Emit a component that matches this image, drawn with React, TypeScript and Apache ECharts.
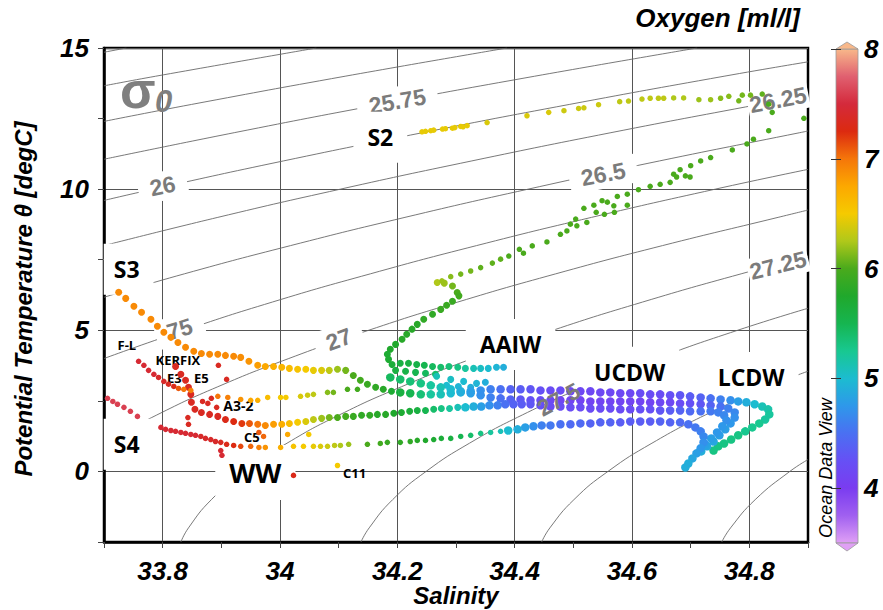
import React, { useEffect, useRef } from 'react';
import * as echarts from 'echarts';

// ---------- axis ticks / labels ----------
const xTickLabels = ['33.8', '34', '34.2', '34.4', '34.6', '34.8'];
const yTickLabels = ['0', '5', '10', '15'];
const colorBarTicks = [4, 5, 6, 7, 8];

// Ocean Data View style oxygen palette, 3.5 .. 8 ml/l (step 0.25)
const oxygenColors = [
  '#e0a0f5', '#a060f0', '#7a3cf0', '#6650f5', '#4a70f2', '#2e98ea', '#1cbcd0',
  '#18c890', '#16b550', '#20a82c', '#4aaa1c', '#b0c81a', '#f5ca00', '#fca800',
  '#f5760a', '#dc2a10', '#d42a3c', '#e06070', '#f8b88a',
];

// ---------- sigma-0 isopycnals [S, T] ----------
const c25_00 = [[33.7, 14.85], [33.738, 15]];
const c25_25 = [[33.7, 13.66], [33.788, 14], [34.062, 15]];
const c25_50 = [[33.7, 12.4], [33.849, 13], [34.111, 14], [34.387, 15]];
const c25_75 = [[33.7, 11.06], [33.922, 12], [34.171, 13], [34.434, 14], [34.711, 15]];
const c26_00 = [[33.7, 9.6], [33.784, 10], [34.006, 11], [34.243, 12], [34.493, 13], [34.757, 14], [34.9, 14.51]];
const c26_25 = [[33.7, 8], [33.894, 9], [34.103, 10], [34.327, 11], [34.564, 12], [34.816, 13], [34.9, 13.32]];
const c26_50 = [[33.7, 6.17], [33.837, 7], [34.018, 8], [34.213, 9], [34.423, 10], [34.647, 11], [34.886, 12], [34.9, 12.06]];
const c26_75 = [[33.7, 4.0], [33.837, 5], [33.987, 6], [34.154, 7], [34.335, 8], [34.531, 9], [34.742, 10], [34.9, 10.7]];
const c27_00 = [[33.7, 1.0], [33.79, 2], [33.894, 3], [34.015, 4], [34.151, 5], [34.303, 6], [34.47, 7], [34.652, 8], [34.849, 9], [34.9, 9.26]];
const c27_25 = [[33.831, -2.5], [33.844, -2], [33.883, -1], [33.939, 0], [34.012, 1], [34.101, 2], [34.207, 3], [34.328, 4], [34.465, 5], [34.618, 6], [34.786, 7], [34.9, 7.62]];
const c27_50 = [[34.138, -2.5], [34.152, -2], [34.192, -1], [34.249, 0], [34.323, 1], [34.413, 2], [34.519, 3], [34.642, 4], [34.78, 5], [34.9, 5.78]];
const c27_75 = [[34.446, -2.5], [34.46, -2], [34.501, -1], [34.559, 0], [34.634, 1], [34.725, 2], [34.832, 3], [34.9, 3.55]];
const c28_00 = [[34.753, -2.5], [34.768, -2], [34.81, -1], [34.869, 0], [34.9, 0.42]];
const contourLines = [c25_00, c25_25, c25_50, c25_75, c26_00, c26_25, c26_50, c26_75, c27_00, c27_25, c27_50, c27_75, c28_00];

// contour labels
const contourLabelText = ['25.75', '26', '26.25', '26.5', '75', '27', '27.25'];
const contourLabelS = [34.2, 33.8, 34.849, 34.551, 33.829, 34.1, 34.849];
const contourLabelT = [13.12, 10.11, 13.16, 10.53, 5.04, 4.68, 7.3];
const contourLabelAngle = [10, 12, 11, 11, 17, 20, 14];
const topLabelText = ['27.5'];
const topLabelS = [34.475];
const topLabelT = [2.55];
const topLabelAngle = [28];

// water-mass / station annotations
const annoNames = ['S2', 'S3', 'S4', 'WW', 'AAIW', 'UCDW', 'LCDW', 'F-L', 'KERFIX', 'E3', 'E5', 'A3-2', 'C5', 'C11'];
const annoS = [34.171, 33.742, 33.742, 33.958, 34.393, 34.596, 34.803, 33.739, 33.826, 33.82, 33.866, 33.929, 33.952, 34.127];
const annoT = [11.84, 7.16, 0.96, -0.04, 4.5, 3.51, 3.33, 4.47, 3.95, 3.3, 3.3, 2.34, 1.21, -0.07];

// ---------- observations [Salinity, Theta, Oxygen] ----------
const s2Branch = [
  [34.242, 12.03, 6.45], [34.248, 12.05, 6.45], [34.257, 12.07, 6.45], [34.262, 12.09, 6.45], [34.277, 12.13, 6.45],
  [34.282, 12.14, 6.45], [34.294, 12.16, 6.45], [34.298, 12.18, 6.45], [34.308, 12.22, 6.45], [34.312, 12.21, 6.45],
  [34.319, 12.25, 6.45], [34.353, 12.36, 6.4], [34.421, 12.6, 6.4], [34.458, 12.72, 6.4], [34.484, 12.78, 6.35],
  [34.509, 12.86, 6.35], [34.518, 12.88, 6.35], [34.543, 12.99, 6.35], [34.579, 13.1, 6.3], [34.594, 13.12, 6.3],
  [34.617, 13.19, 6.3], [34.631, 13.22, 6.3], [34.645, 13.22, 6.3], [34.654, 13.22, 6.3], [34.671, 13.23, 6.25],
  [34.688, 13.23, 6.25], [34.714, 13.17, 6.2], [34.734, 13.17, 6.2], [34.751, 13.22, 6.15], [34.765, 13.29, 6.15],
  [34.782, 13.13, 6.1], [34.788, 13.33, 6.1], [34.802, 13.33, 6.1], [34.822, 13.37, 6.05], [34.833, 13.01, 6.0],
  [34.839, 12.72, 6.0], [34.893, 12.51, 6.0],
];

const greenBranch = [
  [34.833, 12.07, 6.0], [34.807, 11.77, 6.0], [34.796, 11.6, 6.0], [34.771, 11.39, 6.0], [34.734, 11.12, 6.0],
  [34.717, 11.0, 6.0], [34.7, 10.83, 6.0], [34.682, 10.69, 6.0], [34.671, 10.53, 6.0], [34.676, 10.43, 6.0],
  [34.691, 10.47, 6.0], [34.699, 10.43, 6.0], [34.665, 10.24, 6.0], [34.648, 10.17, 6.0], [34.631, 10.1, 6.0],
  [34.611, 9.98, 6.0], [34.592, 9.82, 6.0], [34.575, 9.74, 6.0], [34.592, 9.43, 6.0], [34.569, 9.41, 6.0],
  [34.558, 9.54, 6.0], [34.549, 9.59, 6.0], [34.535, 9.43, 6.0], [34.518, 9.32, 6.0], [34.57, 9.18, 6.0],
  [34.553, 9.11, 6.0], [34.539, 9.18, 6.0], [34.523, 8.82, 6.0], [34.506, 8.7, 6.0], [34.504, 8.94, 6.0],
  [34.495, 8.76, 6.0], [34.489, 8.52, 6.0], [34.478, 8.4, 6.0], [34.455, 8.13, 6.0], [34.43, 7.99, 6.0],
  [34.415, 7.73, 6.0], [34.408, 7.87, 6.0], [34.39, 7.63, 6.0], [34.376, 7.52, 6.05], [34.362, 7.38, 6.05],
  [34.342, 7.22, 6.05], [34.325, 7.1, 6.1], [34.308, 6.99, 6.1], [34.291, 6.9, 6.15], [34.276, 6.75, 6.2],
];

const aaiwBranch = [
  [34.268, 6.69, 6.25], [34.28, 6.67, 6.2], [34.294, 6.57, 6.1], [34.302, 6.34, 6.0], [34.305, 6.22, 5.95],
  [34.294, 6.03, 5.9], [34.284, 5.89, 5.9], [34.274, 5.74, 5.9], [34.26, 5.57, 5.85], [34.245, 5.39, 5.85],
  [34.234, 5.21, 5.8], [34.225, 5.04, 5.8], [34.216, 4.86, 5.8], [34.208, 4.68, 5.8], [34.197, 4.5, 5.75],
  [34.188, 4.33, 5.75], [34.183, 4.15, 5.7], [34.185, 3.97, 5.7], [34.191, 3.79, 5.65], [34.205, 3.83, 5.6],
  [34.219, 3.83, 5.6], [34.233, 3.79, 5.55], [34.246, 3.76, 5.5], [34.26, 3.72, 5.45], [34.274, 3.69, 5.4],
  [34.288, 3.72, 5.35], [34.303, 3.69, 5.3], [34.316, 3.65, 5.2], [34.33, 3.65, 5.1], [34.342, 3.65, 5.05],
  [34.355, 3.65, 5.0], [34.369, 3.69, 4.95], [34.381, 3.69, 4.9],
  [34.197, 3.58, 5.6], [34.214, 3.55, 5.55], [34.231, 3.51, 5.5], [34.248, 3.48, 5.45], [34.265, 3.44, 5.4],
  [34.267, 3.37, 5.1], [34.291, 3.26, 5.05], [34.313, 3.19, 5.0], [34.335, 3.12, 4.95], [34.35, 3.16, 4.9],
  [34.284, 3.05, 5.0], [34.304, 3.01, 4.95], [34.325, 2.98, 4.9],
];

const s3Strand = [
  [33.725, 6.35, 6.9], [33.737, 6.13, 6.9], [33.751, 5.85, 6.9], [33.764, 5.64, 6.9], [33.78, 5.39, 6.9],
  [33.791, 5.14, 6.9], [33.802, 4.93, 6.9], [33.814, 4.75, 6.9], [33.826, 4.57, 6.9], [33.839, 4.4, 6.9],
  [33.853, 4.26, 6.9], [33.866, 4.18, 6.9], [33.88, 4.15, 6.9], [33.894, 4.15, 6.9], [33.907, 4.11, 6.9],
  [33.921, 4.08, 6.9], [33.933, 4.04, 6.88], [33.947, 3.9, 6.85], [33.962, 3.76, 6.8], [33.975, 3.72, 6.75],
  [33.989, 3.72, 6.7], [34.003, 3.69, 6.65], [34.016, 3.65, 6.6], [34.03, 3.62, 6.55], [34.044, 3.62, 6.5],
  [34.057, 3.58, 6.45], [34.071, 3.58, 6.4], [34.084, 3.58, 6.3], [34.098, 3.62, 6.2], [34.112, 3.58, 6.1],
  [34.125, 3.4, 6.0], [34.137, 3.23, 5.95], [34.149, 3.09, 5.9], [34.163, 2.98, 5.85], [34.176, 2.91, 5.8],
  [34.19, 2.84, 5.7], [34.205, 2.8, 5.6], [34.222, 2.77, 5.5], [34.24, 2.73, 5.35], [34.257, 2.73, 5.2],
  [34.274, 2.73, 5.1], [34.291, 2.77, 5.0], [34.308, 2.8, 4.9], [34.325, 2.84, 4.8], [34.342, 2.87, 4.7],
  [34.359, 2.91, 4.6], [34.376, 2.91, 4.5], [34.393, 2.91, 4.4], [34.41, 2.91, 4.35], [34.427, 2.91, 4.3],
  [34.444, 2.87, 4.25], [34.461, 2.87, 4.2], [34.478, 2.87, 4.2], [34.495, 2.84, 4.15], [34.512, 2.84, 4.15],
  [34.529, 2.84, 4.15], [34.546, 2.8, 4.15], [34.563, 2.8, 4.15], [34.58, 2.77, 4.15], [34.597, 2.77, 4.15],
  [34.614, 2.77, 4.2], [34.631, 2.73, 4.2], [34.648, 2.73, 4.2], [34.665, 2.7, 4.25], [34.682, 2.7, 4.3],
  [34.699, 2.66, 4.35], [34.717, 2.62, 4.4], [34.734, 2.59, 4.5], [34.751, 2.55, 4.6], [34.768, 2.52, 4.7],
  [34.781, 2.48, 4.8], [34.795, 2.45, 4.9], [34.809, 2.38, 5.0], [34.822, 2.3, 5.1], [34.832, 2.2, 5.15],
  [34.834, 2.02, 5.2], [34.827, 1.84, 5.2], [34.817, 1.7, 5.25], [34.805, 1.56, 5.25], [34.793, 1.42, 5.25],
  [34.781, 1.28, 5.3], [34.769, 1.13, 5.3], [34.757, 0.99, 5.3], [34.747, 0.89, 5.3], [34.739, 0.74, 5.3],
];

const midStrand = [
  [34.188, 3.33, 5.45], [34.205, 3.26, 5.4], [34.222, 3.19, 5.35], [34.24, 3.12, 5.3], [34.257, 3.05, 5.2],
  [34.274, 2.98, 5.1], [34.291, 2.91, 5.0], [34.308, 2.84, 4.9], [34.325, 2.77, 4.8], [34.342, 2.7, 4.7],
  [34.359, 2.62, 4.6], [34.376, 2.59, 4.5], [34.393, 2.55, 4.4], [34.41, 2.55, 4.3], [34.427, 2.52, 4.25],
  [34.444, 2.52, 4.2], [34.461, 2.52, 4.15], [34.478, 2.52, 4.1], [34.495, 2.52, 4.1], [34.512, 2.52, 4.1],
  [34.529, 2.48, 4.1], [34.546, 2.48, 4.1], [34.563, 2.48, 4.1], [34.58, 2.48, 4.1], [34.597, 2.48, 4.1],
  [34.614, 2.48, 4.1], [34.631, 2.45, 4.1], [34.648, 2.45, 4.15], [34.665, 2.45, 4.15], [34.682, 2.41, 4.2],
  [34.699, 2.41, 4.25], [34.717, 2.38, 4.3], [34.734, 2.34, 4.4], [34.751, 2.3, 4.5], [34.764, 2.23, 4.6],
  [34.775, 2.09, 4.65], [34.775, 1.91, 4.7], [34.768, 1.7, 4.75], [34.759, 1.49, 4.8], [34.749, 1.28, 4.8],
  [34.739, 1.06, 4.85], [34.728, 0.89, 4.85], [34.718, 0.71, 4.9],
];

const rowB = [
  [33.822, 3.72, 7.35], [33.831, 3.44, 7.35], [33.839, 3.23, 7.35], [33.844, 2.98, 7.35], [33.848, 2.73, 7.35],
  [33.849, 2.45, 7.35], [33.855, 2.2, 7.35], [33.866, 2.09, 7.35], [33.88, 2.02, 7.35], [33.894, 1.95, 7.35],
  [33.907, 1.84, 7.3], [33.921, 1.77, 7.25], [33.935, 1.7, 7.2], [33.948, 1.7, 7.1], [33.962, 1.67, 7.0],
  [33.975, 1.63, 6.9], [33.989, 1.67, 6.8], [34.003, 1.67, 6.7], [34.016, 1.7, 6.6], [34.03, 1.74, 6.5],
  [34.044, 1.77, 6.4], [34.057, 1.84, 6.3], [34.071, 1.88, 6.2], [34.084, 1.91, 6.1], [34.098, 1.91, 6.0],
  [34.112, 1.95, 5.95], [34.125, 1.95, 5.9], [34.139, 1.99, 5.85], [34.153, 1.99, 5.85], [34.166, 2.02, 5.8],
  [34.18, 2.02, 5.8], [34.194, 2.06, 5.75], [34.207, 2.09, 5.7], [34.221, 2.13, 5.65], [34.234, 2.16, 5.6],
  [34.248, 2.16, 5.5], [34.262, 2.2, 5.4], [34.275, 2.23, 5.3], [34.289, 2.23, 5.2], [34.303, 2.27, 5.1],
  [34.316, 2.27, 5.0], [34.33, 2.3, 4.9], [34.343, 2.3, 4.8], [34.357, 2.34, 4.7], [34.371, 2.34, 4.6],
  [34.384, 2.38, 4.5], [34.398, 2.38, 4.4], [34.412, 2.38, 4.35], [34.427, 2.38, 4.3], [34.444, 2.34, 4.25],
  [34.461, 2.3, 4.2], [34.478, 2.3, 4.2], [34.495, 2.27, 4.2], [34.512, 2.27, 4.2], [34.529, 2.23, 4.2],
  [34.546, 2.23, 4.2], [34.563, 2.23, 4.2], [34.58, 2.2, 4.2], [34.597, 2.2, 4.2], [34.614, 2.2, 4.25],
  [34.631, 2.2, 4.25], [34.648, 2.16, 4.3], [34.665, 2.16, 4.35], [34.682, 2.16, 4.4], [34.699, 2.13, 4.45],
  [34.717, 2.13, 4.5], [34.734, 2.13, 4.55], [34.747, 2.09, 4.6], [34.757, 1.99, 4.65], [34.761, 1.81, 4.7],
  [34.754, 1.6, 4.75], [34.745, 1.38, 4.75], [34.735, 1.17, 4.8], [34.725, 0.96, 4.8],
];

const lowerLeft = [
  [33.706, 2.59, 7.6], [33.715, 2.48, 7.6], [33.723, 2.38, 7.6], [33.734, 2.27, 7.6], [33.745, 2.13, 7.6],
  [33.757, 1.95, 7.6], [33.797, 1.56, 7.45], [33.805, 1.49, 7.45], [33.814, 1.45, 7.45], [33.822, 1.42, 7.45],
  [33.831, 1.38, 7.45], [33.839, 1.35, 7.45], [33.848, 1.31, 7.45], [33.856, 1.28, 7.45], [33.865, 1.24, 7.4],
  [33.873, 1.17, 7.4], [33.882, 1.13, 7.4], [33.89, 1.06, 7.4], [33.899, 1.03, 7.35], [33.909, 0.96, 7.3],
  [33.921, 0.92, 7.25], [33.933, 0.89, 7.15], [33.95, 0.89, 7.05], [33.964, 0.85, 6.95], [33.975, 0.85, 6.85],
  [34.001, 0.85, 6.7], [34.023, 0.89, 6.55], [34.04, 0.89, 6.5], [34.057, 0.89, 6.45], [34.069, 0.89, 6.4],
  [34.081, 0.89, 6.35], [34.093, 0.92, 6.3], [34.103, 0.92, 6.25], [34.117, 0.96, 6.2], [34.149, 0.96, 6.0],
  [34.171, 0.99, 5.95], [34.183, 1.03, 5.9], [34.205, 1.03, 5.85], [34.222, 1.06, 5.85], [34.234, 1.1, 5.8],
  [34.248, 1.1, 5.75], [34.262, 1.13, 5.7], [34.275, 1.17, 5.65], [34.291, 1.17, 5.6], [34.308, 1.24, 5.5],
  [34.325, 1.28, 5.4], [34.342, 1.35, 5.3], [34.359, 1.38, 5.2], [34.376, 1.42, 5.1],
];

const lowerRight = [
  [34.389, 1.45, 5.0], [34.405, 1.49, 4.9], [34.418, 1.56, 4.8], [34.432, 1.6, 4.7], [34.446, 1.63, 4.6],
  [34.461, 1.63, 4.55], [34.478, 1.67, 4.5], [34.495, 1.67, 4.45], [34.512, 1.7, 4.45], [34.529, 1.7, 4.4],
  [34.546, 1.74, 4.4], [34.563, 1.74, 4.4], [34.58, 1.74, 4.35], [34.597, 1.77, 4.35], [34.614, 1.77, 4.35],
  [34.631, 1.77, 4.35], [34.648, 1.77, 4.4], [34.665, 1.74, 4.4], [34.682, 1.74, 4.45], [34.696, 1.67, 4.5],
  [34.708, 1.56, 4.55], [34.717, 1.42, 4.6], [34.722, 1.24, 4.65], [34.722, 1.03, 4.7], [34.717, 0.82, 4.75],
  [34.71, 0.64, 4.8], [34.703, 0.46, 4.85], [34.696, 0.28, 4.9], [34.691, 0.14, 4.9],
];

const rowA = [
  [33.894, 2.66, 7.0], [33.911, 2.62, 6.95], [33.933, 2.55, 6.85], [33.95, 2.52, 6.75], [33.962, 2.52, 6.7],
  [33.979, 2.62, 6.6], [34.001, 2.62, 6.5], [34.01, 2.62, 6.5], [34.035, 2.66, 6.4], [34.047, 2.7, 6.35],
  [34.057, 2.73, 6.3], [34.081, 2.8, 6.15], [34.091, 2.8, 6.1], [34.115, 2.91, 6.0], [34.132, 2.91, 5.95],
];

const kerfix = [
  [33.759, 3.9, 7.45], [33.768, 3.76, 7.45], [33.776, 3.58, 7.45], [33.785, 3.44, 7.45], [33.793, 3.33, 7.4],
  [33.802, 3.19, 7.4], [33.81, 3.09, 7.35], [33.819, 3.01, 7.3], [33.827, 2.94, 7.1], [33.836, 2.91, 7.0],
  [33.848, 2.87, 6.95],
];

const scattered = [
  [33.895, 3.76, 7.35], [33.909, 3.26, 7.35], [33.883, 2.59, 7.35], [33.877, 2.41, 7.35], [33.892, 2.27, 7.35],
  [33.868, 2.48, 7.35], [33.843, 1.91, 7.35], [33.844, 1.67, 7.35], [33.964, 1.38, 7.1], [33.972, 1.24, 7.05],
  [33.899, 0.74, 7.45], [33.901, 0.57, 7.45], [34.023, -0.14, 7.3], [34.098, 0.21, 6.5], [34.013, 1.31, 6.75],
  [34.049, 1.31, 6.5],
];

const thinObs = [...aaiwBranch, ...s3Strand.slice(0, 36), ...rowB.slice(0, 40)];
const bandObs = [...s3Strand.slice(36), ...midStrand, ...rowB.slice(40), ...lowerRight];
const sparseObs = [...s2Branch, ...greenBranch, ...lowerLeft, ...rowA, ...kerfix, ...scattered];

const AXIS_FONT = 'Liberation Sans';
const LABEL_FONT = 'Open Sans';

function buildOption() {
  const series: any[] = [];

  contourLines.forEach((pts) => {
    series.push({
      type: 'line', data: pts, smooth: true, symbol: 'none', silent: true, z: 1,
      lineStyle: { color: '#6a6a6a', width: 0.9 }, xAxisIndex: 0, yAxisIndex: 0,
    });
  });

  series.push({
    type: 'scatter', symbolSize: 0, silent: true, z: 2, itemStyle: { opacity: 1 },
    data: contourLabelText.map((t, i) => ({
      value: [contourLabelS[i], contourLabelT[i]],
      label: {
        formatter: t, rotate: contourLabelAngle[i],
        padding: contourLabelS[i] > 34.8 ? [2, 2] : [3, 12],
      },
    })),
    label: {
      show: true, position: 'inside', fontSize: 23, fontWeight: 'bold', color: '#7b7b7b', opacity: 1,
      fontFamily: AXIS_FONT, backgroundColor: '#ffffff', textBorderWidth: 0, textBorderColor: 'transparent',
    },
  });

  series.push({
    type: 'scatter', symbolSize: 0, silent: true, z: 2, itemStyle: { opacity: 1 },
    data: annoNames.map((n, i) => {
      const big = i < 7;
      const ww = n === 'WW';
      const atLeft = n === 'S3' || n === 'S4';
      const fs = ww ? 27 : big ? 23 : n === 'A3-2' ? 14 : 13;
      return {
        value: [annoS[i], annoT[i]],
        label: {
          formatter: n,
          fontSize: fs,
          lineHeight: big ? fs + 4 : fs,
          backgroundColor: big ? '#ffffff' : 'transparent',
          padding: big ? (atLeft ? [12, 14, 12, 10] : [12, 14]) : 0,
        },
      };
    }),
    label: {
      show: true, position: 'inside', fontWeight: 'bold', color: '#000000', fontFamily: LABEL_FONT, opacity: 1,
      textBorderWidth: 0, textBorderColor: 'transparent', textShadowBlur: 0,
    },
  });

  const obsIndex: number[] = [];
  obsIndex.push(series.length);
  series.push({ type: 'scatter', data: thinObs, symbolSize: 7, z: 3, silent: true, itemStyle: { opacity: 1 } });
  obsIndex.push(series.length);
  series.push({ type: 'scatter', data: bandObs, symbolSize: 8.5, z: 3, silent: true, itemStyle: { opacity: 1 } });
  obsIndex.push(series.length);
  series.push({ type: 'scatter', data: sparseObs, symbolSize: 5.5, z: 3, silent: true, itemStyle: { opacity: 1 } });

  series.push({
    type: 'scatter', symbolSize: 0, silent: true, z: 4, itemStyle: { opacity: 1 },
    data: topLabelText.map((t, i) => ({
      value: [topLabelS[i], topLabelT[i]],
      label: { formatter: t, rotate: topLabelAngle[i] },
    })),
    label: {
      show: true, position: 'inside', fontSize: 23, fontWeight: 'bold', color: '#7b7b7b', opacity: 1,
      fontFamily: AXIS_FONT, textBorderWidth: 0, textBorderColor: 'transparent',
    },
  });

  const barX = 836, barY = 49, barW = 22, barH = 494;
  const gradient = new echarts.graphic.LinearGradient(
    0, 1, 0, 0,
    oxygenColors.map((c, i) => ({ offset: i / (oxygenColors.length - 1), color: c })),
  );

  const tickLabelStyle = {
    fontSize: 26, fontWeight: 'bold' as const, fontStyle: 'italic' as const,
    color: '#000', fontFamily: AXIS_FONT,
  };

  return {
    animation: false,
    backgroundColor: '#ffffff',
    grid: [
      { left: 104, top: 48, width: 704, height: 494, show: true, borderColor: '#000', borderWidth: 2.5, containLabel: false },
      { left: barX, top: barY, width: barW, height: barH, show: false, containLabel: false },
    ],
    xAxis: [
      {
        type: 'value', gridIndex: 0, min: 33.7, max: 34.9, interval: 0.1,
        axisLine: { show: true, onZero: false, lineStyle: { color: '#000', width: 2.5 } },
        axisTick: { show: true, length: 6, lineStyle: { color: '#444', width: 1 } },
        axisLabel: {
          ...tickLabelStyle, margin: 16,
          formatter: (v: number) => {
            const s = String(Math.round(v * 10) / 10);
            return xTickLabels.includes(s) ? s : '';
          },
        },
        splitLine: { show: true, lineStyle: { color: ['rgba(0,0,0,0)', '#555'], width: 1 } },
      },
      { type: 'value', gridIndex: 1, show: false, min: 0, max: 1 },
    ],
    yAxis: [
      {
        type: 'value', gridIndex: 0, min: -2.5, max: 15, interval: 2.5,
        axisLine: { show: true, onZero: false, lineStyle: { color: '#000', width: 2.5 } },
        axisTick: { show: true, length: 6, lineStyle: { color: '#444', width: 1 } },
        axisLabel: {
          ...tickLabelStyle, margin: 15,
          formatter: (v: number) => {
            const s = String(Math.round(v * 10) / 10);
            return yTickLabels.includes(s) ? s : '';
          },
        },
        splitLine: { show: true, lineStyle: { color: ['rgba(0,0,0,0)', '#555'], width: 1 } },
      },
      {
        type: 'value', gridIndex: 1, position: 'right', min: 3.5, max: 8, z: 10,
        axisLine: { show: false },
        axisTick: { show: true, inside: true, length: 5, customValues: colorBarTicks, lineStyle: { color: '#333', width: 1 } },
        axisLabel: { ...tickLabelStyle, margin: 6, customValues: colorBarTicks },
        splitLine: { show: false },
      },
      {
        type: 'value', gridIndex: 1, position: 'left', min: 3.5, max: 8, z: 10,
        axisLine: { show: false },
        axisTick: { show: true, inside: true, length: 5, customValues: colorBarTicks, lineStyle: { color: '#333', width: 1 } },
        axisLabel: { show: false },
        splitLine: { show: false },
      },
    ],
    visualMap: {
      type: 'continuous', show: false, min: 3.5, max: 8, dimension: 2,
      seriesIndex: obsIndex,
      inRange: { color: oxygenColors },
    },
    graphic: [
      {
        type: 'rect', z: 1, shape: { x: barX, y: barY, width: barW, height: barH },
        style: { fill: gradient, stroke: '#9a9a9a', lineWidth: 0.8 },
      },
      {
        type: 'polygon', z: 1, shape: { points: [[barX, barY], [barX + barW / 2, barY - 7], [barX + barW, barY]] },
        style: { fill: oxygenColors[oxygenColors.length - 1], stroke: '#9a9a9a', lineWidth: 0.8 },
      },
      {
        type: 'polygon', z: 1, shape: { points: [[barX, barY + barH], [barX + barW / 2, barY + barH + 8], [barX + barW, barY + barH]] },
        style: { fill: oxygenColors[0], stroke: '#9a9a9a', lineWidth: 0.8 },
      },
      {
        type: 'text', x: 800, y: 18, z: 5,
        style: { text: 'Oxygen [ml/l]', fontSize: 26, fontWeight: 'bold', fontStyle: 'italic', fontFamily: AXIS_FONT, fill: '#000', align: 'right', verticalAlign: 'middle' },
      },
      {
        type: 'text', x: 23, y: 299, rotation: Math.PI / 2, z: 5,
        style: { text: 'Potential Temperature θ [degC]', fontSize: 24, fontWeight: 'bold', fontStyle: 'italic', fontFamily: AXIS_FONT, fill: '#000', align: 'center', verticalAlign: 'middle' },
      },
      {
        type: 'text', x: 456, y: 595, z: 5,
        style: { text: 'Salinity', fontSize: 24, fontWeight: 'bold', fontStyle: 'italic', fontFamily: AXIS_FONT, fill: '#000', align: 'center', verticalAlign: 'middle' },
      },
      {
        type: 'text', x: 826, y: 468, rotation: Math.PI / 2, z: 5,
        style: { text: 'Ocean Data View', fontSize: 18, fontStyle: 'italic', fontFamily: AXIS_FONT, fill: '#000', align: 'center', verticalAlign: 'middle' },
      },
      {
        type: 'text', x: 120, y: 90, z: 5,
        style: { text: 'σ', fontSize: 52, fontWeight: 'bold', fontFamily: AXIS_FONT, fill: '#7f7f7f', align: 'left', verticalAlign: 'middle' },
      },
      {
        type: 'text', x: 155, y: 101, z: 5,
        style: { text: '0', fontSize: 31, fontWeight: 'bold', fontStyle: 'italic', fontFamily: AXIS_FONT, fill: '#7f7f7f', align: 'left', verticalAlign: 'middle' },
      },
    ],
    series,
  };
}

export default function App() {
  const ref = useRef<HTMLDivElement>(null);
  useEffect(() => {
    if (!ref.current) return;
    const chart = echarts.init(ref.current, null, { renderer: 'svg' });
    chart.setOption(buildOption() as any);
    return () => chart.dispose();
  }, []);
  return (
    <div
      ref={ref}
      style={{ position: 'fixed', left: 0, top: 0, width: 883, height: 610, background: '#ffffff' }}
    />
  );
}
